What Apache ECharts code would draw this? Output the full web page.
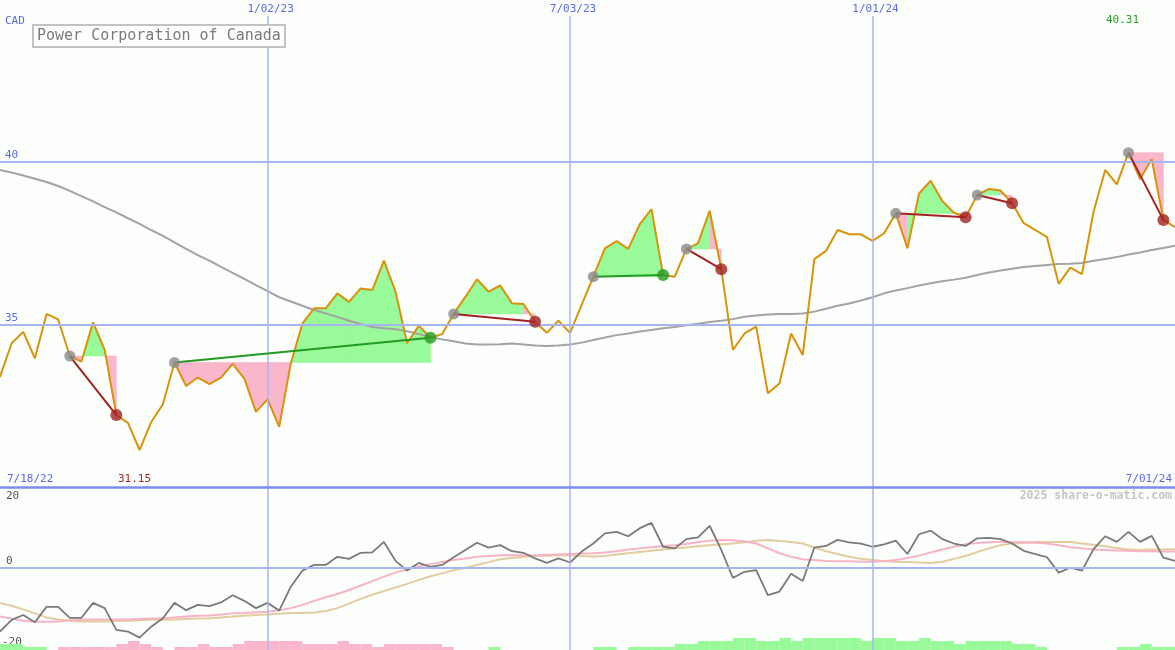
<!DOCTYPE html>
<html><head><meta charset="utf-8">
<script src="https://cdn.jsdelivr.net/npm/echarts@6.0.0/dist/echarts.min.js"></script>
<style>html,body{margin:0;padding:0;background:#fbfefb}#c{width:1175px;height:650px}</style>
</head><body><div id="c"></div>
<script>
// ---------- data (weekly, index 0 = first visible week) ----------
const title = 'Power Corporation of Canada';
const currency = 'CAD';
const startLabel = '7/18/22', endLabel = '7/01/24';
const lowLabel = '31.15', highLabel = '40.31';
const tickIdx = [23, 49, 75];
const tickLabels = ['1/02/23', '7/03/23', '1/01/24'];
const priceLines = [35, 40];
const oscLabels = [20, 0, -20];
const copyright = '2025 share-o-matic.com';

const price = [
 33.41,34.44,34.79,33.98,35.34,35.17,34.05,33.88,35.08,34.24,
 32.24,32.00,31.17,32.03,32.57,33.85,33.13,33.39,33.19,33.39,
 33.81,33.36,32.34,32.72,31.88,33.83,35.05,35.51,35.51,35.97,
 35.71,36.12,36.07,36.97,36.02,34.44,34.98,34.61,34.72,35.34,
 35.86,36.40,36.02,36.21,35.67,35.64,35.10,34.76,35.13,34.76,
 35.62,36.48,37.35,37.57,37.33,38.09,38.55,36.53,36.48,37.33,
 37.50,38.50,36.71,34.24,34.74,34.95,32.91,33.21,34.74,34.08,
 37.02,37.27,37.91,37.78,37.78,37.58,37.81,38.42,37.35,39.03,
 39.42,38.80,38.44,38.30,38.98,39.17,39.12,38.73,38.12,37.91,
 37.69,36.26,36.76,36.56,38.47,39.75,39.31,40.28,39.47,40.08,
 38.22,38.00
];
const priceMA = [
 39.75,39.67,39.58,39.48,39.38,39.26,39.11,38.95,38.79,38.61,
 38.45,38.27,38.10,37.91,37.73,37.53,37.33,37.14,36.97,36.78,
 36.60,36.41,36.22,36.04,35.85,35.72,35.59,35.46,35.35,35.25,
 35.13,35.03,34.94,34.90,34.87,34.81,34.72,34.63,34.56,34.50,
 34.43,34.40,34.40,34.41,34.43,34.40,34.37,34.36,34.37,34.40,
 34.46,34.54,34.62,34.69,34.74,34.80,34.85,34.90,34.94,34.99,
 35.04,35.09,35.13,35.18,35.25,35.29,35.32,35.34,35.34,35.35,
 35.41,35.50,35.59,35.66,35.75,35.85,35.97,36.06,36.13,36.21,
 36.28,36.34,36.39,36.45,36.53,36.61,36.67,36.72,36.78,36.81,
 36.84,36.87,36.88,36.90,36.97,37.02,37.08,37.16,37.22,37.30,
 37.36,37.43
];
// [start week, end week] of each marked move
const segments = [[6,10],[15,37],[39,46],[51,57],[59,62],[77,83],[84,87],[97,100]];

const osc = [
 -15.8,-12.9,-11.7,-13.5,-9.7,-9.7,-12.4,-12.4,-8.7,-10.0,
 -15.4,-15.8,-17.3,-14.6,-12.5,-8.7,-10.5,-9.2,-9.5,-8.6,
 -6.8,-8.2,-10.0,-8.7,-10.6,-4.7,-0.7,0.7,0.7,2.7,
 2.2,3.7,3.8,6.4,1.7,-0.7,1.2,0.2,0.7,2.6,
 4.4,6.2,5.0,5.6,4.1,3.7,2.3,1.2,2.3,1.3,
 4.0,6.0,8.5,8.9,7.8,9.8,11.1,5.2,4.8,7.1,
 7.5,10.4,4.4,-2.5,-1.0,-0.6,-6.8,-5.9,-1.5,-3.3,
 5.0,5.4,6.9,6.3,6.0,5.2,5.8,6.7,3.4,8.3,
 9.2,7.1,6.0,5.4,7.3,7.4,7.1,6.0,4.2,3.4,
 2.6,-1.2,0.0,-0.7,4.6,7.8,6.4,8.9,6.4,7.9,
 2.5,1.7
];
const oscPink = [
 -12.1,-12.6,-13.1,-13.4,-13.4,-13.3,-13.0,-12.9,-12.8,-12.8,
 -12.8,-12.8,-12.7,-12.6,-12.5,-12.3,-12.1,-11.9,-11.8,-11.6,
 -11.3,-11.2,-11.0,-10.9,-10.5,-10.0,-9.2,-8.2,-7.3,-6.5,
 -5.5,-4.4,-3.3,-2.2,-1.2,-0.4,0.3,0.9,1.4,1.9,
 2.3,2.7,2.9,3.1,3.1,3.1,3.1,3.2,3.3,3.4,
 3.5,3.6,3.8,4.1,4.5,4.8,5.1,5.4,5.6,5.9,
 6.4,6.7,6.9,6.8,6.5,6.0,4.8,3.6,2.7,2.1,
 1.9,1.7,1.6,1.6,1.5,1.5,1.6,1.9,2.4,3.0,
 3.8,4.5,5.2,5.8,6.1,6.3,6.4,6.4,6.3,6.2,
 6.0,5.6,5.1,4.8,4.5,4.4,4.3,4.2,4.1,4.1,
 4.0,4.0
];
const oscTan = [
 -8.7,-9.4,-10.3,-11.3,-12.3,-12.8,-13.1,-13.3,-13.3,-13.3,
 -13.2,-13.1,-13.0,-12.9,-12.9,-12.8,-12.7,-12.6,-12.5,-12.3,
 -12.1,-11.9,-11.7,-11.6,-11.4,-11.2,-11.2,-11.1,-10.7,-10.0,
 -8.9,-7.7,-6.7,-5.8,-4.9,-4.0,-3.0,-2.1,-1.4,-0.6,
 0.0,0.7,1.4,2.1,2.4,2.7,2.9,3.0,3.1,3.1,
 2.9,2.8,2.9,3.3,3.6,3.9,4.2,4.5,4.8,5.0,
 5.3,5.6,5.8,6.0,6.3,6.7,6.9,6.6,6.4,6.0,
 5.0,4.1,3.4,2.7,2.2,1.9,1.7,1.5,1.4,1.3,
 1.2,1.5,2.2,2.9,3.9,4.8,5.6,6.0,6.2,6.4,
 6.4,6.4,6.4,6.0,5.7,5.3,4.9,4.5,4.4,4.5,
 4.5,4.6
];
// weekly histogram (positive = green, negative = pink)
const hist = [
 2,2,1,1,0,-1,-1,-1,-1,-1,
 -2,-3,-2,-1,0,-1,-1,-2,-1,-1,
 -2,-3,-3,-3,-3,-3,-2,-2,-2,-3,
 -2,-2,-1,-2,-2,-2,-2,-2,-1,0,
 0,0,1,0,0,0,0,0,0,0,
 0,1,1,0,1,1,1,1,2,2,
 3,3,3,4,4,3,3,4,3,4,
 4,4,4,4,3,4,4,3,3,4,
 3,3,2,3,3,3,3,2,2,1,
 0,0,0,0,0,0,1,1,2,1,
 1
];

// ---------- styling ----------
const MONO = '"DejaVu Sans Mono","Liberation Mono",monospace';
const BLUE = '#5a6ae6';
const GRID_BLUE = '#a8b4f2';
const BORDER_BLUE = '#7d8bec';
const GREEN_FILL = 'rgb(152,250,152)';
const PINK_FILL = 'rgb(250,182,202)';
const ORANGE = '#d8930c';
const UP = '#239a23', DOWN = '#a32222';
const FS = 11;

const N = price.length;
const PX_PER_UNIT = 32.64;
const TOP_MAX = 40 + 161.8 / PX_PER_UNIT, TOP_MIN = 40 - 325.2 / PX_PER_UNIT;
const TICK_TOP = TOP_MAX - 16 / PX_PER_UNIT;
const LOW_MIN = -20 - 1.5 / 4.0375;

const xy = arr => arr.map((v, i) => [i, v]);
const axX = g => ({type:'value', gridIndex:g, min:0, max:N-1, show:false});

const chart = echarts.init(document.getElementById('c'));

const fillSeries = {
  type:'custom', xAxisIndex:0, yAxisIndex:0, z:1, silent:true,
  data: segments.map(s => [s[0], price[s[0]], s[1]]),
  encode:{x:0, y:1},
  renderItem(params, api) {
    const s = api.value(0), e = api.value(2), L = price[s];
    const children = [];
    for (let k = s; k < e; k++) {
      const col = price[k+1] >= L ? GREEN_FILL : PINK_FILL;
      children.push({type:'polygon', shape:{points:[
        api.coord([k, L]), api.coord([k, price[k]]), api.coord([k+1, price[k+1]]), api.coord([k+1, L])
      ]}, style:{fill:col, stroke:col, lineWidth:0.6}});
    }
    return {type:'group', children};
  }
};

const segLines = segments.map(s => ({
  type:'line', xAxisIndex:0, yAxisIndex:0, z:6, silent:true, symbol:'none',
  data:[[s[0], price[s[0]]], [s[1], price[s[1]]]],
  lineStyle:{color: price[s[1]] >= price[s[0]] ? UP : DOWN, width:2}
}));

const labelBase = {color:BLUE, fontFamily:MONO, fontSize:FS};
const txt = (t, fill, extra) => Object.assign({type:'text', style:{text:t, font:`${FS}px ${MONO}`, fill}}, extra);

const option = {
  backgroundColor:'#fbfefb',
  animation:false,
  title:{text:title, left:33, top:25, padding:[4,4,3,4], borderColor:'#c2c2c2', borderWidth:2,
    backgroundColor:'#fdfffd',
    textStyle:{fontFamily:MONO, fontSize:15, fontWeight:'normal', color:'#7a7a7a'}},
  grid:[
    {left:0, right:0, top:0, height:487},
    {left:0, right:0, top:487, bottom:0},
    {left:0, right:0, bottom:0, height:30}
  ],
  xAxis:[axX(0), axX(1), axX(2)],
  yAxis:[
    {type:'value', gridIndex:0, min:TOP_MIN, max:TOP_MAX, show:false},
    {type:'value', gridIndex:1, min:LOW_MIN, max:20, show:false},
    {type:'value', gridIndex:2, min:0, max:10, show:false}
  ],
  graphic:[
    txt(currency, BLUE, {left:5, top:16}),
    txt(highLabel, '#2a9a2a', {left:1106, top:15}),
    txt(startLabel, BLUE, {left:7, top:474}),
    txt(lowLabel, '#a02828', {left:118, top:474}),
    txt(endLabel, BLUE, {right:3, top:474}),
    {type:'text', right:3, top:490, style:{text:copyright, font:`bold 11.5px ${MONO}`, fill:'#c6c6c6'}},
    txt(String(oscLabels[0]), '#555', {left:6, top:491}),
    txt(String(oscLabels[1]), '#555', {left:6, top:556}),
    txt(String(oscLabels[2]), '#555', {left:2, top:637})
  ],
  series:[
    // grid lines (top panel)
    {type:'line', xAxisIndex:0, yAxisIndex:0, z:0, silent:true, symbol:'none',
     data:xy(priceMA), lineStyle:{opacity:0},
     markLine:{symbol:'none', silent:true, animation:false,
       data:[
         ...priceLines.map(v => ({yAxis:v, lineStyle:{color:GRID_BLUE, width:2, type:'solid'},
            label:{show:true, formatter:String(v), position:'insideStartTop', distance:[5,1], ...labelBase}})),
         ...tickIdx.map((t, n) => [
            {coord:[t, TICK_TOP], lineStyle:{color:GRID_BLUE, width:1.5, type:'solid'},
             label:{show:true, position:'start', formatter:tickLabels[n], distance:1, padding:[0,0,0,6], ...labelBase}},
            {coord:[t, TOP_MIN], lineStyle:{color:GRID_BLUE, width:1.5, type:'solid'},
             label:{show:true, position:'start', formatter:tickLabels[n], distance:1, padding:[0,0,0,6], ...labelBase}}
         ])
       ]}},
    // grid lines (lower panel)
    {type:'line', xAxisIndex:1, yAxisIndex:1, z:0, silent:true, symbol:'none',
     data:xy(osc), lineStyle:{opacity:0},
     markLine:{symbol:'none', silent:true, animation:false, label:{show:false},
       data:[
         {yAxis:0, lineStyle:{color:GRID_BLUE, width:2, type:'solid'}},
         ...tickIdx.map(t => [
            {coord:[t, 20], lineStyle:{color:GRID_BLUE, width:1.5, type:'solid'}},
            {coord:[t, LOW_MIN], lineStyle:{color:GRID_BLUE, width:1.5, type:'solid'}}
         ]),
         {yAxis:20, lineStyle:{color:BORDER_BLUE, width:2.5, type:'solid'}}
       ]}},
    fillSeries,
    {type:'line', xAxisIndex:0, yAxisIndex:0, z:3, silent:true, symbol:'none',
     data:xy(priceMA), lineStyle:{color:'#a3a3a3', width:2}},
    {type:'line', xAxisIndex:0, yAxisIndex:0, z:4, silent:true, symbol:'none',
     data:xy(price), lineStyle:{color:ORANGE, width:2}},
    ...segLines,
    {type:'scatter', xAxisIndex:0, yAxisIndex:0, z:8, silent:true, symbolSize:11,
     data:segments.map(s => [s[0], price[s[0]]]), itemStyle:{color:'#8a8a8a'}},
    {type:'scatter', xAxisIndex:0, yAxisIndex:0, z:8, silent:true, symbolSize:12,
     data:segments.map(s => ({value:[s[1], price[s[1]]],
        itemStyle:{color: price[s[1]] >= price[s[0]] ? UP : DOWN}}))},
    // lower panel
    {type:'custom', xAxisIndex:2, yAxisIndex:2, z:1, silent:true,
     data:xy(hist), encode:{x:0, y:1},
     renderItem(params, api) {
       const k = api.value(0), v = api.value(1);
       if (!v) return;
       const p0 = api.coord([k, Math.abs(v)]), p1 = api.coord([k+1, 0]);
       return {type:'rect', shape:{x:p0[0], y:p0[1], width:p1[0]-p0[0], height:p1[1]-p0[1]},
         style:{fill: v > 0 ? GREEN_FILL : PINK_FILL}};
     }},
    {type:'line', xAxisIndex:1, yAxisIndex:1, z:3, silent:true, symbol:'none',
     data:xy(oscTan), lineStyle:{color:'#e3cc9e', width:2}},
    {type:'line', xAxisIndex:1, yAxisIndex:1, z:3, silent:true, symbol:'none',
     data:xy(oscPink), lineStyle:{color:'#f7b2c6', width:2}},
    {type:'line', xAxisIndex:1, yAxisIndex:1, z:4, silent:true, symbol:'none',
     data:xy(osc), lineStyle:{color:'#7a7a7a', width:1.8}}
  ]
};
chart.setOption(option);
</script>
</body></html>
